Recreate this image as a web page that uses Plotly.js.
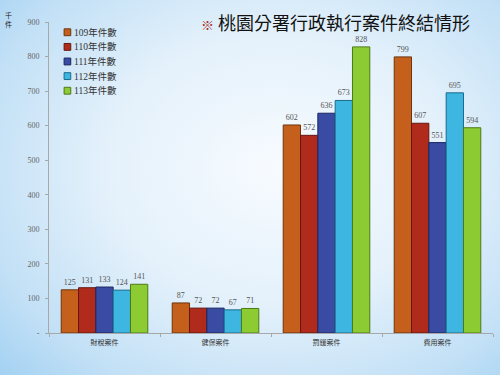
<!DOCTYPE html>
<html>
<head>
<meta charset="utf-8">
<script src="https://cdn.plot.ly/plotly-3.0.1.min.js"></script>
<style>
html,body{margin:0;padding:0;}
body{width:500px;height:375px;overflow:hidden;
background: radial-gradient(ellipse 75% 80% at 55% 45%, #f7fbff 0%, #e4f1fb 45%, #c2e0f6 80%, #a4d2f2 100%);}
#chart{width:500px;height:375px;}
</style>
</head>
<body>
<div id="chart"></div>
<script>
const categories = ['財稅案件', '健保案件', '罰鍰案件', '費用案件'];
const seriesNames = ['109年件數', '110年件數', '111年件數', '112年件數', '113年件數'];
const v109 = [125, 87, 602, 799];
const v110 = [131, 72, 572, 607];
const v111 = [133, 72, 636, 551];
const v112 = [124, 67, 673, 695];
const v113 = [141, 71, 828, 594];
const yTickVals = [0, 100, 200, 300, 400, 500, 600, 700, 800, 900];
const yTickText = ['-', '100', '200', '300', '400', '500', '600', '700', '800', '900'];

const seriesValues = [v109, v110, v111, v112, v113];
const fills = ['#C4601C', '#B02B1B', '#3A4BA3', '#3DB7E2', '#8DCB33'];
const lines = ['#6e340c', '#661710', '#1b2660', '#1a6a8c', '#4d7a18'];
const serif = '"Liberation Serif", "DejaVu Serif", serif';
const cjk = '"Noto Sans CJK TC", "Noto Sans CJK SC", sans-serif';

const data = seriesValues.map((vals, i) => ({
  type: 'bar',
  name: seriesNames[i],
  x: categories,
  y: vals,
  text: vals.map(String),
  textposition: 'outside',
  cliponaxis: false,
  textfont: {family: serif, size: 8, color: '#555'},
  marker: {color: fills[i], line: {color: lines[i], width: 1}},
  showlegend: false
}));

// compact legend (symbol + label), laid out in paper coordinates
const legendX = 0.034, legendTop = 0.967, legendStep = 0.047;
const legendShapes = seriesNames.map((n, i) => ({
  type: 'rect', xref: 'paper', yref: 'paper',
  x0: legendX, x1: legendX + 0.015,
  y0: legendTop - i * legendStep - 0.011, y1: legendTop - i * legendStep + 0.011,
  fillcolor: fills[i], line: {color: lines[i], width: 1}
}));
const legendAnns = seriesNames.map((n, i) => ({
  text: n, xref: 'paper', yref: 'paper',
  x: legendX + 0.018, y: legendTop - i * legendStep,
  xanchor: 'left', yanchor: 'middle', showarrow: false,
  font: {family: serif + ', ' + cjk, size: 9.5, color: '#333'}
}));

const layout = {
  width: 500, height: 375,
  paper_bgcolor: 'rgba(0,0,0,0)',
  plot_bgcolor: 'rgba(0,0,0,0)',
  margin: {l: 49, r: 7, t: 22, b: 42},
  barmode: 'group',
  bargap: 0.22,
  bargroupgap: 0,
  showlegend: false,
  title: {
    text: '<span style="color:#a8322a;font-size:13px">※</span> 桃園分署行政執行案件終結情形',
    x: 0.402, xanchor: 'left', xref: 'container',
    y: 0.936, yanchor: 'middle', yref: 'container',
    font: {family: cjk, size: 18, color: '#111'}
  },
  xaxis: {
    type: 'category',
    showline: true, linecolor: '#a8a8a8', linewidth: 1,
    ticks: 'outside', ticklen: 3, tickcolor: '#a8a8a8',
    tickson: 'boundaries',
    ticklabelstandoff: 3,
    tickfont: {family: cjk, size: 7, color: '#333'},
    showgrid: false, zeroline: false
  },
  yaxis: {
    range: [0, 900],
    tickvals: yTickVals, ticktext: yTickText,
    showline: true, linecolor: '#a8a8a8', linewidth: 1,
    ticks: 'outside', ticklen: 3, tickcolor: '#a8a8a8',
    ticklabelstandoff: 4,
    tickfont: {family: serif, size: 8, color: '#666'},
    showgrid: false, zeroline: false
  },
  shapes: legendShapes,
  annotations: [{
    text: '千<br>件', xref: 'paper', yref: 'paper',
    x: -0.092, y: 1.045, xanchor: 'center', yanchor: 'top',
    showarrow: false, font: {family: cjk, size: 7, color: '#222'}
  }].concat(legendAnns)
};

Plotly.newPlot('chart', data, layout, {displayModeBar: false});
</script>
</body>
</html>
